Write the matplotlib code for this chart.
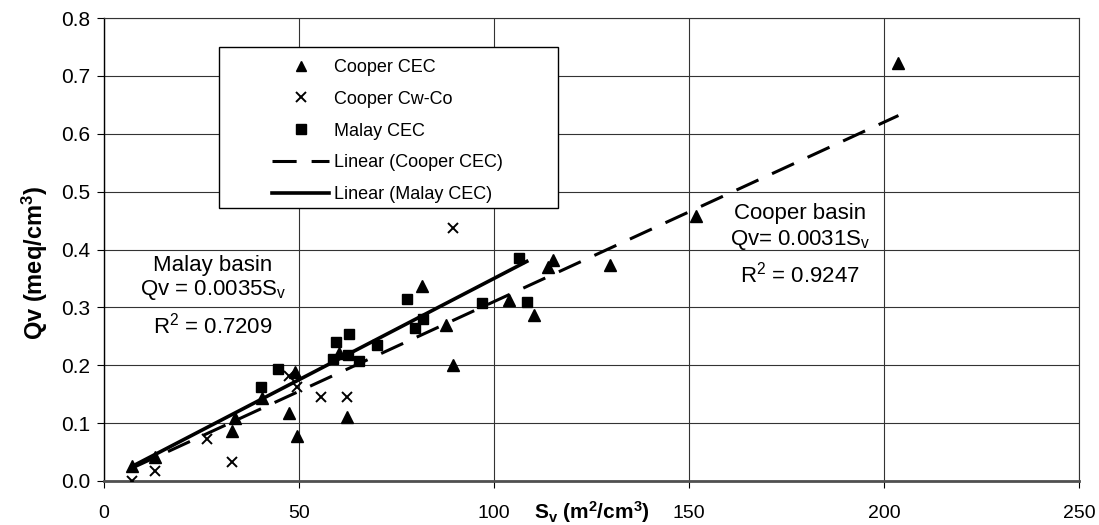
import numpy as np
import matplotlib.pyplot as plt
from matplotlib.lines import Line2D
from matplotlib.patches import Rectangle

plt.rcParams['font.family'] = ['Liberation Sans', 'DejaVu Sans']
plt.rcParams['mathtext.default'] = 'regular'

# Cooper basin, CEC based Qv
cooper_cec_sv = [7.3, 13.1, 32.8, 33.5, 40.6, 47.5, 49.4, 49.0, 60.3, 62.4,
                 81.5, 87.7, 89.6, 103.8, 110.3, 113.9, 115.0, 129.7, 151.8, 203.7]
cooper_cec_qv = [0.026, 0.041, 0.086, 0.109, 0.143, 0.117, 0.078, 0.189, 0.222, 0.110,
                 0.337, 0.269, 0.200, 0.313, 0.286, 0.370, 0.382, 0.373, 0.458, 0.722]
# Cooper basin, Cw-Co based Qv
cooper_cw_sv = [7.3, 13.1, 26.5, 32.8, 47.5, 49.6, 55.6, 62.4, 89.6]
cooper_cw_qv = [0.0, 0.018, 0.072, 0.032, 0.181, 0.162, 0.146, 0.146, 0.438]
# Malay basin, CEC based Qv
malay_sv = [40.2, 44.7, 58.8, 59.5, 62.5, 62.9, 65.3, 70.1, 77.8, 79.7,
            81.9, 96.8, 106.5, 108.4]
malay_qv = [0.163, 0.193, 0.210, 0.241, 0.218, 0.254, 0.207, 0.235, 0.314, 0.265,
            0.280, 0.307, 0.385, 0.310]

# trend line slopes (through origin), as printed on the chart
cooper_slope = 0.0031
malay_slope = 0.0035

fig = plt.figure(figsize=(10.99, 5.25), dpi=100)
W, H = 1099, 525
ax = fig.add_axes([104 / W, 1 - 481 / H, (1079 - 104) / W, (481 - 18) / H])

# trend lines
cx = np.array([min(cooper_cec_sv), max(cooper_cec_sv)])
mx = np.array([min(cooper_cec_sv), max(malay_sv)])
ax.plot(cx, cooper_slope * cx, color='k', lw=2.2, ls=(0, (7.9, 4.9)), zorder=3)
ax.plot(mx, malay_slope * mx, color='k', lw=2.6, zorder=3)

# points
ax.plot(cooper_cec_sv, cooper_cec_qv, '^', color='k', ms=8, ls='none', zorder=4)
ax.plot(cooper_cw_sv, cooper_cw_qv, 'x', color='k', ms=7, mew=1.4, ls='none', zorder=4)
ax.plot(malay_sv, malay_qv, 's', color='k', ms=7.3, ls='none', zorder=4)

ax.set_xlim(0, 250)
ax.set_ylim(0, 0.8)
ax.set_xticks(np.arange(0, 251, 50))
ax.set_yticks(np.arange(0, 0.81, 0.1))
ax.set_yticklabels(['%.1f' % v for v in np.arange(0, 0.81, 0.1)])
ax.grid(True, color='#333333', lw=0.8)
ax.set_axisbelow(True)
ax.tick_params(axis='x', direction='out', length=5, pad=12, labelsize=14)
ax.tick_params(axis='y', direction='out', length=5, pad=5, labelsize=15)

ax.spines['bottom'].set_color('#505050')
ax.spines['bottom'].set_linewidth(2)
ax.spines['left'].set_linewidth(1.0)
for s in ['top', 'right']:
    ax.spines[s].set_color('#333333')
    ax.spines[s].set_linewidth(0.8)

ax.set_xlabel('S$_\\mathregular{v}$ (m$^\\mathregular{2}$/cm$^\\mathregular{3}$)',
              fontsize=15, fontweight='bold', va='center')
ax.xaxis.set_label_coords(0.5, -0.066)
ax.set_ylabel('Qv (meq/cm$^\\mathregular{3}$)', fontsize=17, fontweight='bold', va='center')
ax.yaxis.set_label_coords(-0.071, 0.47)

# equations
ax.text(27.9, 0.373, 'Malay basin', fontsize=16, ha='center', va='center')
ax.text(27.9, 0.330, 'Qv = 0.0035S$_\\mathregular{v}$', fontsize=16, ha='center', va='center')
ax.text(27.9, 0.269, 'R$^\\mathregular{2}$ = 0.7209', fontsize=16, ha='center', va='center')
ax.text(178.5, 0.463, 'Cooper basin', fontsize=16, ha='center', va='center')
ax.text(178.5, 0.416, 'Qv= 0.0031S$_\\mathregular{v}$', fontsize=16, ha='center', va='center')
ax.text(178.5, 0.356, 'R$^\\mathregular{2}$ = 0.9247', fontsize=16, ha='center', va='center')

# legend
box = Rectangle((219 / W, 1 - 208 / H), 339 / W, 161 / H, transform=fig.transFigure,
                facecolor='white', edgecolor='black', lw=1, zorder=4.5, clip_on=False)
ax.add_patch(box)
handles = [
    Line2D([], [], marker='^', color='k', ls='none', ms=7.5),
    Line2D([], [], marker='x', color='k', ls='none', ms=7, mew=1.4),
    Line2D([], [], marker='s', color='k', ls='none', ms=7),
    Line2D([], [], color='k', lw=2.2, ls=(0, (7.9, 4.9))),
    Line2D([], [], color='k', lw=2.6),
]
labels = ['Cooper CEC', 'Cooper Cw-Co', 'Malay CEC', 'Linear (Cooper CEC)', 'Linear (Malay CEC)']
ax.legend(handles, labels, loc='center left', bbox_to_anchor=(263 / W, 1 - 131 / H),
          bbox_transform=fig.transFigure, frameon=False, fontsize=13, borderpad=0,
          handlelength=3.17, handletextpad=0.28, labelspacing=0.82)

fig.savefig('out.png', dpi=100)
